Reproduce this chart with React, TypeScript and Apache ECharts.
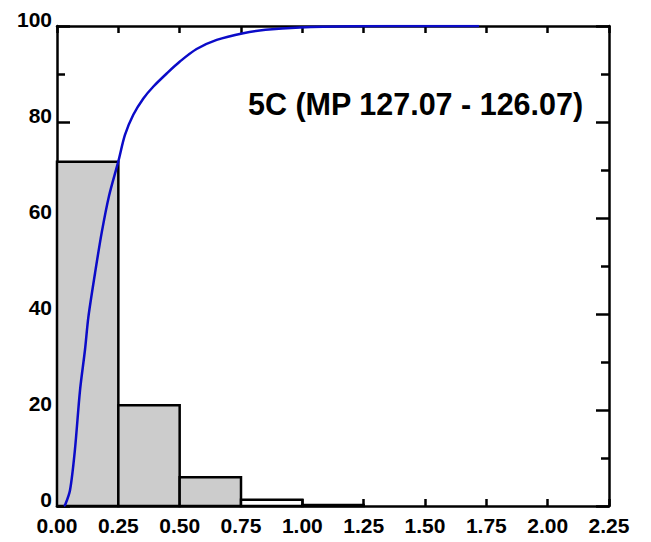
import React, { useEffect, useRef } from "react";
import * as echarts from "echarts";

const binStarts = [0, 0.25, 0.5, 0.75, 1.0];
const binEnds = [0.25, 0.5, 0.75, 1.0, 1.25];
const binPercents = [71.7, 21.0, 6.0, 1.3, 0.2];
const binFills = ["#cccccc", "#cccccc", "#cccccc", "#ffffff", "#ffffff"];

const cdfX = [0.028, 0.033, 0.053, 0.073, 0.094, 0.114, 0.128, 0.155, 0.182, 0.212, 0.25, 0.277, 0.311, 0.352, 0.393, 0.447, 0.501, 0.569, 0.651, 0.759, 0.85, 0.99, 1.2, 1.5, 1.72];
const cdfY = [0, 0.2, 3.3, 11.7, 24.2, 32.5, 39.4, 48.5, 56.9, 64.6, 71.8, 77.3, 81.5, 84.9, 87.4, 90.1, 92.6, 95.2, 97.1, 98.5, 99.2, 99.7, 99.95, 100, 100];

const xTickLabels = ["0.00", "0.25", "0.50", "0.75", "1.00", "1.25", "1.50", "1.75", "2.00", "2.25"];
const titleText = "5C (MP 127.07 - 126.07)";

const FONT = "'Liberation Sans', Arial, Helvetica, sans-serif";

export default function App() {
  const ref = useRef<HTMLDivElement>(null);
  useEffect(() => {
    if (!ref.current) return;
    const chart = echarts.init(ref.current, null, { renderer: "svg" });
    const axisLine = { show: true, onZero: false, lineStyle: { color: "#000", width: 2.5 } };
    const tickStyle = { color: "#000", width: 2.5 };
    const histData = binStarts.map((s, i) => ({
      value: [s, binEnds[i], binPercents[i]],
      itemStyle: { color: binFills[i] },
    }));
    chart.setOption({
      animation: false,
      backgroundColor: "#ffffff",
      grid: { left: 57, right: 42, top: 26, bottom: 36, containLabel: false },
      xAxis: [
        {
          type: "value",
          position: "bottom",
          min: 0,
          max: 2.25,
          interval: 0.25,
          axisLine,
          axisTick: { show: true, inside: true, length: 7, lineStyle: tickStyle },
          axisLabel: {
            show: true,
            margin: 9,
            color: "#000",
            fontFamily: FONT,
            fontWeight: "bold",
            fontSize: 21,
            formatter: (v: number) => {
              const idx = Math.round(v / 0.25);
              return xTickLabels[idx] ?? "";
            },
          },
          splitLine: { show: false },
        },
        {
          type: "value",
          position: "top",
          min: 0,
          max: 2.25,
          interval: 0.25,
          axisLine,
          axisTick: { show: true, inside: true, length: 7, lineStyle: tickStyle },
          axisLabel: { show: false },
          splitLine: { show: false },
        },
      ],
      yAxis: [
        {
          type: "value",
          position: "left",
          min: 0,
          max: 100,
          interval: 20,
          axisLine,
          axisTick: { show: true, inside: true, length: 13, lineStyle: tickStyle },
          minorTick: { show: true, splitNumber: 2, length: 8, lineStyle: tickStyle },
          axisLabel: {
            show: true,
            margin: 5,
            color: "#000",
            fontFamily: FONT,
            fontWeight: "bold",
            fontSize: 21,
            formatter: (v: number) => `{v|${v}}\n{s| }`,
            rich: {
              v: { fontFamily: FONT, fontWeight: "bold", fontSize: 21, lineHeight: 24, color: "#000" },
              s: { fontSize: 2, lineHeight: 14 },
            },
          },
          splitLine: { show: false },
          minorSplitLine: { show: false },
        },
        {
          type: "value",
          position: "right",
          min: 0,
          max: 100,
          interval: 20,
          axisLine,
          axisTick: { show: true, inside: true, length: 13, lineStyle: tickStyle },
          minorTick: { show: true, splitNumber: 2, length: 8, lineStyle: tickStyle },
          axisLabel: { show: false },
          splitLine: { show: false },
          minorSplitLine: { show: false },
        },
      ],
      graphic: [
        {
          type: "text",
          x: 248,
          y: 104,
          style: {
            text: titleText,
            fontFamily: FONT,
            fontWeight: "bold",
            fontSize: 30.5,
            fill: "#000",
            textVerticalAlign: "middle",
            verticalAlign: "middle",
          },
        },
      ],
      series: [
        {
          type: "custom",
          xAxisIndex: 0,
          yAxisIndex: 0,
          z: 2,
          data: histData,
          encode: { x: [0, 1], y: 2 },
          renderItem: (params: any, api: any) => {
            const p0 = api.coord([api.value(0), 0]);
            const p1 = api.coord([api.value(1), api.value(2)]);
            return {
              type: "rect",
              shape: { x: p0[0], y: p1[1], width: p1[0] - p0[0], height: p0[1] - p1[1] },
              style: { fill: api.visual("color"), stroke: "#000", lineWidth: 2.5 },
            };
          },
        },
        {
          type: "line",
          xAxisIndex: 0,
          yAxisIndex: 0,
          z: 3,
          data: cdfX.map((x, i) => [x, cdfY[i]]),
          showSymbol: false,
          symbol: "none",
          smooth: 0.3,
          lineStyle: { color: "#0b0bc8", width: 2.5 },
        },
      ],
    });
    return () => chart.dispose();
  }, []);
  return <div ref={ref} style={{ width: 651, height: 542, margin: -8 }} />;
}
